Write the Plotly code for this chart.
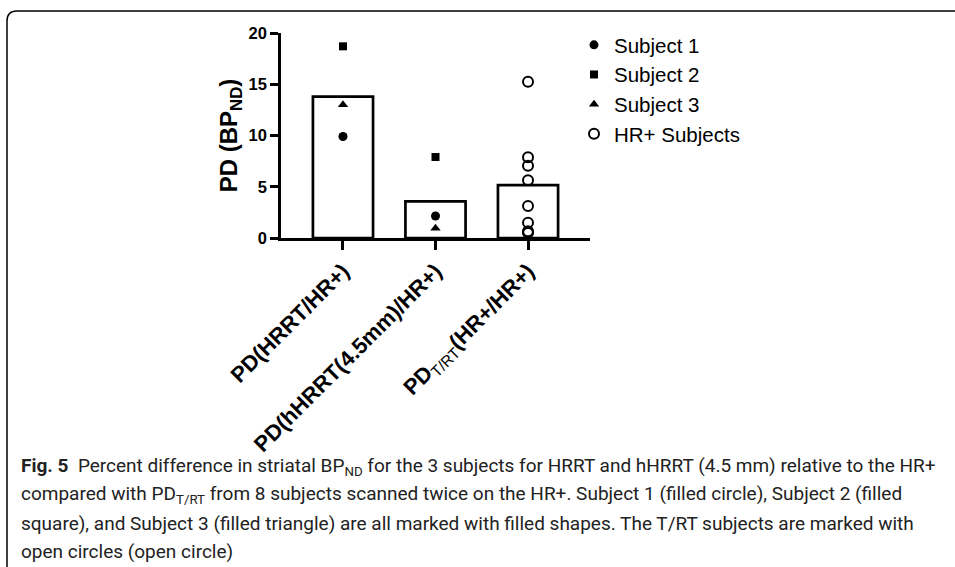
import plotly.graph_objects as go

categories = ["PD(HRRT/HR+)", "PD(hHRRT(4.5mm)/HR+)", "PD_T/RT(HR+/HR+)"]
tick_labels = ["<b>PD(HRRT/HR+)</b>", "<b>PD(hHRRT(4.5mm)/HR+)</b>",
               "<b>PD</b><sub>T/RT</sub><b>(HR+/HR+)</b>"]
bar_means = [13.8, 3.58, 5.15]
subject1 = [9.9, 2.15]
subject2 = [18.7, 7.9]
subject3 = [13.0, 0.95]
hr_subjects = [15.25, 7.87, 7.05, 5.63, 3.12, 1.5, 0.65, 0.5]

W, H = 955, 567
L, R, T, B = 281, 590, 33, 238

def px(x):
    return (x - L) / (R - L)

def py(y):
    return (B - y) / (B - T)

AX_FONT = "Liberation Sans, Arial, sans-serif"

fig = go.Figure()
fig.add_trace(go.Bar(x=[0, 1, 2], y=bar_means, width=0.65,
                     marker=dict(color="white", line=dict(color="black", width=2.7)),
                     showlegend=False))
fig.add_trace(go.Scatter(x=[0, 1], y=subject1, mode="markers", name="Subject 1",
                         marker=dict(symbol="circle", size=9, color="black")))
fig.add_trace(go.Scatter(x=[0, 1], y=subject2, mode="markers", name="Subject 2",
                         marker=dict(symbol="square", size=8, color="black")))
fig.add_trace(go.Scatter(x=[0, 1], y=subject3, mode="markers", name="Subject 3",
                         marker=dict(symbol="triangle-up", size=9, color="black")))
fig.add_trace(go.Scatter(x=[2] * len(hr_subjects), y=hr_subjects, mode="markers",
                         name="HR+ Subjects",
                         marker=dict(symbol="circle-open", size=10, color="black",
                                     line=dict(width=2, color="black"))))

fig.update_xaxes(range=[-0.67, 2.67], tickmode="array", tickvals=[0, 1, 2],
                 ticktext=tick_labels, tickangle=-45, showline=True, linecolor="black",
                 linewidth=2.5, ticks="outside", ticklen=9, tickwidth=2.5, tickcolor="black",
                 tickfont=dict(family=AX_FONT, size=22, color="black"),
                 showgrid=False, zeroline=False)
fig.update_yaxes(range=[0, 20], tickvals=[0, 5, 10, 15, 20],
                 ticktext=["<b>0</b>", "<b>5</b>", "<b>10</b>", "<b>15</b>", "<b>20</b>"],
                 showline=True, linecolor="black", linewidth=2.5, ticks="outside",
                 ticklen=8, tickwidth=2.5, tickcolor="black",
                 tickfont=dict(family=AX_FONT, size=16.5, color="black"),
                 title=dict(text="<b>PD (BP<sub>ND</sub>)</b>", standoff=5,
                            font=dict(family=AX_FONT, size=24, color="black")),
                 showgrid=False, zeroline=False)

cap_font = dict(family="Roboto, Open Sans, sans-serif", size=19, color="#222")
caption = [
    "<b>Fig. 5</b>  Percent difference in striatal BP<sub>ND</sub> for the 3 subjects for HRRT and hHRRT (4.5 mm) relative to the HR+",
    "compared with PD<sub>T/RT</sub> from 8 subjects scanned twice on the HR+. Subject 1 (filled circle), Subject 2 (filled",
    "square), and Subject 3 (filled triangle) are all marked with filled shapes. The T/RT subjects are marked with",
    "open circles (open circle)",
]
cap_y = [466, 494, 523, 551]
for txt, yy in zip(caption, cap_y):
    fig.add_annotation(text=txt, x=px(19), y=py(yy), xref="paper", yref="paper",
                       xanchor="left", yanchor="middle", showarrow=False, font=cap_font)

# frame
x0, y0, r = 7, 11, 10
path = (f"M {px(x0)} {py(H + 5)} L {px(x0)} {py(y0 + r)} "
        f"Q {px(x0)} {py(y0)} {px(x0 + r)} {py(y0)} L {px(W + 5)} {py(y0)}")
fig.add_shape(type="path", path=path, xref="paper", yref="paper",
              line=dict(color="black", width=1.5))

fig.update_layout(
    width=W, height=H, margin=dict(l=L, r=W - R, t=T, b=H - B),
    plot_bgcolor="white", paper_bgcolor="white",
    legend=dict(x=px(574), y=py(25), xanchor="left", yanchor="top",
                font=dict(family=AX_FONT, size=20.5, color="black"),
                itemwidth=30, bgcolor="rgba(0,0,0,0)"),
    showlegend=True,
)
fig.write_html("out.html", config={"displayModeBar": False},
               post_script="document.body.style.margin='0px';")
